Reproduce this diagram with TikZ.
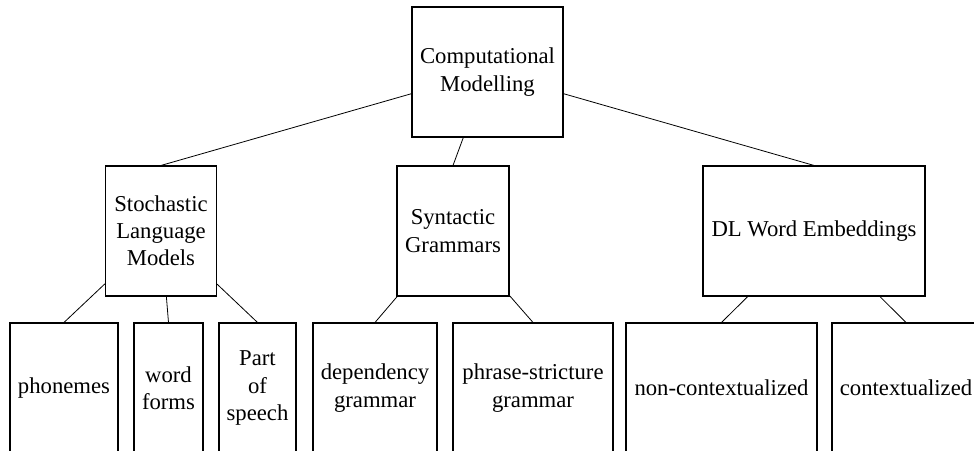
\documentclass[tikz,border=0pt]{standalone}
\usepackage{fontspec}
\setmainfont{Liberation Serif}
\usepackage{tikz}

\begin{document}
\begin{tikzpicture}[x=1pt, y=-1pt,
  every node/.style={font=\fontsize{22.7pt}{27.2pt}\selectfont},
  box/.style={draw, line width=1.1pt, align=center, inner sep=2pt,
    minimum height=130pt},
  link/.style={line width=0.8pt}]
\useasboundingbox (0,0) rectangle (974,450);
\clip (0,0) rectangle (974,450);

\node[box, minimum width=151pt] (cm) at (487.5,72) {Computational\\Modelling};

\node[box, minimum width=111pt] (slm) at (161,231) {Stochastic\\Language\\Models};
\node[box, minimum width=112pt] (sg) at (453,231) {Syntactic\\Grammars};
\node[box, minimum width=222pt] (dlwe) at (814,231) {DL Word Embeddings};

\foreach \nm/\x/\w/\lab in {ph/64/108/phonemes, wf/168.5/69/{word\\forms},
    pos/257.5/77/{Part\\of\\speech}, dep/375/124/{dependency\\grammar},
    psg/533/160/{phrase-stricture\\grammar}, nc/721.5/191/non-contextualized,
    ctx/906/148/contextualized} {
  \node[box, minimum width=\w pt] (\nm) at (\x,388) {\lab};
}

\foreach \p/\c in {cm/slm, cm/sg, cm/dlwe, slm/ph, slm/wf, slm/pos,
    sg/dep, sg/psg, dlwe/nc, dlwe/ctx} {
  \draw[link] (\p) -- (\c.north);
}
\end{tikzpicture}
\end{document}
